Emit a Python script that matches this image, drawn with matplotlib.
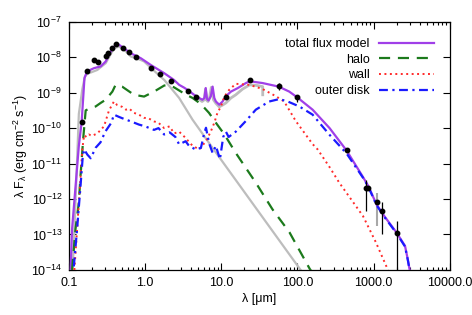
import matplotlib
matplotlib.use("Agg")
import matplotlib.pyplot as plt
import numpy as np
from matplotlib.ticker import FixedLocator, FixedFormatter, NullLocator, LogLocator

plt.rcParams['font.family'] = ['Liberation Sans', 'DejaVu Sans']
plt.rcParams['mathtext.default'] = 'regular'

# total flux model (log10 of lambda F_lambda)
lam_tot = [0.105, 0.110, 0.135, 0.147, 0.16, 0.173, 0.213, 0.261, 0.304, 0.354, 0.41, 0.455,
           0.53, 0.65, 0.88, 1.19, 1.78, 2.39, 2.8, 3.26, 3.65, 4.4, 5.13, 5.65, 6.0, 6.25,
           6.5, 6.8, 7.3, 7.7, 8.1, 8.5, 9.4, 10.4, 11.5, 13.4, 16.5, 21, 23.7, 35, 56.8,
           78, 99, 158, 264, 441, 725, 850, 1090, 1400, 1990, 2580, 2800, 3000]
log_tot = [-14.05, -12.85, -10.5, -9.82, -8.59, -8.40, -8.31, -8.26, -8.12, -7.84, -7.65, -7.65,
           -7.75, -7.89, -8.03, -8.22, -8.45, -8.64, -8.78, -8.86, -8.93, -9.06, -9.15, -9.2, -9.15, -8.87,
           -9.18, -9.22, -9.1, -8.83, -9.15, -9.25, -9.34, -9.25, -9.1, -8.97, -8.87, -8.73, -8.68, -8.73, -8.83,
           -8.97, -9.13, -9.48, -10.0, -10.63, -11.38, -11.63, -12.15, -12.5, -12.94, -13.32, -13.69, -14.05]

# halo
lam_halo = [0.11, 0.122, 0.135, 0.142, 0.154, 0.166, 0.193, 0.224, 0.261, 0.304, 0.372, 0.41,
            0.5, 0.715, 0.97, 1.31, 1.78, 1.97, 2.4, 3.4, 4.2, 5.4, 6.9, 8.5, 11, 15.5, 28.4,
            47, 78.6, 145, 160]
log_halo = [-14.0, -12.85, -12.1, -11.35, -10.3, -9.5, -9.43, -9.39, -9.29, -9.2, -8.97, -8.78,
            -8.83, -9.06, -9.11, -8.97, -8.8, -8.78, -8.85, -9.05, -9.15, -9.32, -9.57, -9.85, -10.18, -10.7, -11.54,
            -12.29, -12.94, -13.97, -14.1]

# wall
lam_wall = [0.118, 0.128, 0.14, 0.15, 0.158, 0.17, 0.183, 0.2, 0.236, 0.289, 0.336, 0.39, 0.43,
            0.5, 0.56, 0.62, 0.715, 0.83, 0.97, 1.1, 1.31, 1.5, 1.78, 2.1, 2.4, 2.8, 3.3, 4.2, 5.13,
            6.3, 7.3, 8.1, 8.9, 9.9, 11, 12.7, 15.5, 23.6, 35, 52, 67, 95, 158, 184, 264,
            354, 725, 1070, 1520, 1600]
log_wall = [-14.0, -12.85, -11.6, -10.6, -10.2, -10.25, -10.18, -10.22, -10.15, -9.95, -9.5, -9.25, -9.35,
            -9.4, -9.48, -9.45, -9.57, -9.62, -9.71, -9.72, -9.81, -9.85, -10.0, -9.95, -10.15, -10.1, -10.25, -10.5, -10.6,
            -10.37, -10.09, -9.85, -9.57, -9.39, -9.11, -8.92, -8.75, -8.78, -8.9, -9.1, -9.25, -9.8, -10.45, -10.6, -11.1,
            -11.54, -12.48, -13.22, -13.97, -14.1]

# outer disk
lam_disk = [0.116, 0.128, 0.142, 0.152, 0.158, 0.175, 0.193, 0.225, 0.26, 0.3, 0.36, 0.39, 0.45,
            0.5, 0.56, 0.65, 0.83, 1.0, 1.31, 1.5, 1.78, 2.1, 2.5, 2.8, 3.4, 3.8, 4.6, 5.4, 6.0, 6.3,
            6.9, 7.7, 8.5, 9.6, 10.6, 11.5, 12.5, 15.5, 21, 28.4, 42.5, 58, 74.7, 106, 158,
            264, 443, 725, 850, 1090, 1400, 1990, 2580, 2800, 3000]
log_disk = [-13.9, -12.85, -11.63, -10.8, -10.6, -10.75, -10.85, -10.55, -10.4, -10.1, -9.85, -9.62, -9.68,
            -9.72, -9.76, -9.81, -9.9, -9.95, -10.05, -10.0, -10.18, -10.12, -10.25, -10.46, -10.37, -10.51, -10.6, -10.56, -10.13, -9.99,
            -10.42, -10.7, -10.5, -10.88, -10.25, -10.1, -10.25, -10.1, -9.8, -9.48, -9.25, -9.18, -9.25, -9.39, -9.62,
            -10.19, -10.72, -11.4, -11.65, -12.17, -12.52, -12.96, -13.34, -13.7, -14.05]

# stellar photosphere
lam_star = [0.112, 0.12, 0.135, 0.15, 0.162, 0.174, 0.2, 0.236, 0.304, 0.39, 0.455, 0.55,
            0.65, 0.88, 0.97, 1.19, 1.8, 2.8, 4.19, 7.7, 74.7, 110]
log_star = [-14.0, -12.5, -9.6, -8.9, -8.55, -8.47, -8.42, -8.36, -8.17, -7.75, -7.70, -7.82,
            -7.98, -8.08, -8.12, -8.3, -8.65, -9.15, -9.76, -10.56, -13.5, -14.0]

# IR spectrum
lam_irs = [5.2, 5.6, 6.0, 6.2, 6.45, 6.7, 7.0, 7.4, 7.9, 8.5, 9.4, 10.4, 11.5, 13.4, 15.5,
           19, 23.6, 30, 35, 35.01]
log_irs = [-9.2, -9.25, -9.2, -8.9, -9.22, -9.25, -9.15, -8.85, -9.2, -9.3, -9.4, -9.35, -9.29,
           -9.15, -9.06, -8.9, -8.78, -8.8, -8.83, -9.06]

# photometry
lam_obs = [0.147, 0.173, 0.211, 0.239, 0.307, 0.326, 0.371, 0.42, 0.52, 0.61, 0.76, 1.2,
           1.59, 2.18, 3.65, 4.64, 11.5, 23.8, 56.8, 99, 443, 795, 850, 1100, 1290, 2000]
flux_obs = [1.5e-10, 4.0e-9, 8.4e-9, 7.2e-9, 1.1e-8, 1.3e-8, 1.8e-8, 2.37e-8, 1.8e-8, 1.38e-8,
            1.0e-8, 5.0e-9, 3.4e-9, 2.2e-9, 1.1e-9, 7.6e-10, 7.6e-10, 2.25e-9, 1.5e-9, 7.4e-10,
            2.35e-11, 2.1e-12, 2.1e-12, 8.3e-13, 4.7e-13, 1.1e-13]

# error bars (lambda, log low, log high)
err_lam = [56.8, 99, 795, 1290, 2000]
err_lo = [-8.92, -9.25, -12.34, -12.98, -14.0]
err_hi = [-8.73, -9.06, -11.45, -12.07, -12.63]
gerr_lam = [1100]
gerr_lo = [-12.76]
gerr_hi = [-11.84]

fig = plt.figure(figsize=(4.72, 3.15), dpi=100)
ax = fig.add_axes([0.146, 0.143, 0.807, 0.788])

def p(v):
    return 10.0 ** np.array(v)

ax.plot(lam_star, p(log_star), color='#bdbdbd', lw=1.6, zorder=2)
ax.plot(lam_irs, p(log_irs), color='#bdbdbd', lw=2.0, zorder=2)
ax.vlines(gerr_lam, p(gerr_lo), p(gerr_hi), color='#a8a8a8', lw=1.5, zorder=3)

l_tot, = ax.plot(lam_tot, p(log_tot), color='#a03fe8', lw=1.6, zorder=4, label='total flux model')
l_halo, = ax.plot(lam_halo, p(log_halo), color='#1c7a1c', lw=1.6, ls=(0, (5, 3.5)), zorder=4, label='halo')
l_wall, = ax.plot(lam_wall, p(log_wall), color='#ff2a2a', lw=1.4, ls=(0, (1, 1.8)), zorder=4, label='wall')
l_disk, = ax.plot(lam_disk, p(log_disk), color='#1a1aff', lw=1.6, ls=(0, (4, 2, 1, 2)), zorder=5, label='outer disk')

ax.vlines(err_lam, p(err_lo), p(err_hi), color='black', lw=0.9, zorder=6)
ax.plot(lam_obs, flux_obs, 'o', color='black', ms=3.2, zorder=7)

ax.set_xscale('log')
ax.set_yscale('log')
ax.set_xlim(0.1, 10000)
ax.set_ylim(1e-14, 1e-7)

xt = [0.1, 1, 10, 100, 1000, 10000]
ax.xaxis.set_major_locator(FixedLocator(xt))
ax.xaxis.set_major_formatter(FixedFormatter(['0.1', '1.0', '10.0', '100.0', '1000.0', '10000.0']))
ax.xaxis.set_minor_locator(LogLocator(base=10, subs=np.arange(2, 10), numticks=20))
ax.yaxis.set_major_locator(LogLocator(base=10, numticks=20))
ax.yaxis.set_minor_locator(NullLocator())

ax.tick_params(which='both', direction='in', top=True, right=True, labelsize=9, width=0.8)
ax.tick_params(which='major', length=5, pad=5)
ax.tick_params(which='minor', length=2.5)
for s in ax.spines.values():
    s.set_linewidth(0.9)

ax.set_xlabel('λ [μm]', fontsize=9, labelpad=3)
ax.set_ylabel('λ F$_λ$ (erg cm$^{-2}$ s$^{-1}$)', fontsize=9, labelpad=1)

ax.legend(handles=[l_tot, l_halo, l_wall, l_disk], loc='upper right', frameon=False,
          markerfirst=False, fontsize=9, handlelength=4.4, handletextpad=0.7,
          labelspacing=0.3, borderaxespad=0.9)

fig.savefig('out.png', dpi=100)
